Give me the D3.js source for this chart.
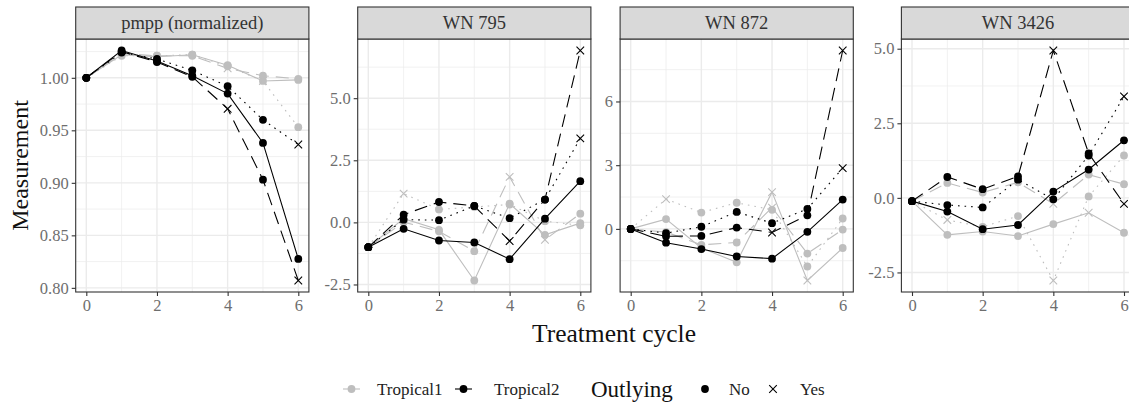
<!DOCTYPE html>
<html><head><meta charset="utf-8">
<script src="https://cdn.jsdelivr.net/npm/d3@7"></script>
<style>
body{margin:0;background:#fff}
svg{display:block}
text{font-family:"Liberation Serif","Times New Roman",serif}
</style>
</head><body>
<svg id="c" width="1129" height="405"></svg>
<script>
// ---------------- data ----------------
const cycles = [0, 1, 2, 3, 4, 5, 6];
const panelNames = ["pmpp (normalized)", "WN 795", "WN 872", "WN 3426"];
const seriesNames = ["Tropical1", "Tropical2"];
const lineTypes = ["solid", "dashed", "dotted"];
const xTicks = [0, 2, 4, 6];
const yTicks_pmpp = [0.80, 0.85, 0.90, 0.95, 1.00];
const yTicks_795 = [-2.5, 0.0, 2.5, 5.0];
const yTicks_872 = [0, 3, 6];
const yTicks_3426 = [-2.5, 0.0, 2.5, 5.0];
const yLabels_pmpp = ["0.80", "0.85", "0.90", "0.95", "1.00"];
const yLabels_795 = ["-2.5", "0.0", "2.5", "5.0"];
const yLabels_872 = ["0", "3", "6"];
const yLabels_3426 = ["-2.5", "0.0", "2.5", "5.0"];

// each: [solid, dashed, dotted]
const pmpp_Tropical1 = [
  [1.000, 1.022, 1.020, 1.022, 1.012, 0.997, 0.998],
  [1.000, 1.023, 1.021, 1.021, 1.009, 1.002, 0.999],
  [1.000, 1.021, 1.021, 1.022, 1.011, 0.997, 0.953]
];
const pmpp_Tropical2 = [
  [1.000, 1.026, 1.016, 1.002, 0.985, 0.938, 0.8275],
  [1.000, 1.025, 1.015, 1.001, 0.9705, 0.903, 0.807],
  [1.000, 1.024, 1.018, 1.007, 0.992, 0.960, 0.9365]
];
const pmpp_Tropical1_yes = [[], [4], [5]];
const pmpp_Tropical2_yes = [[], [4, 6], [6]];

const wn795_Tropical1 = [
  [-1.0, 0.15, -0.30, -2.34, 0.75, -0.50, -0.03],
  [-1.0, 0.01, -0.36, -1.16, 1.83, -0.70, 0.35],
  [-1.0, 1.16, 0.52, 0.62, 0.72, 0.05, -0.12]
];
const wn795_Tropical2 = [
  [-1.0, -0.26, -0.73, -0.81, -1.48, 0.15, 1.66],
  [-1.0, 0.31, 0.82, 0.66, -0.75, 0.92, 6.92],
  [-1.0, 0.11, 0.09, 0.66, 0.17, 0.92, 3.38]
];
const wn795_Tropical1_yes = [[], [4, 5], [1]];
const wn795_Tropical2_yes = [[], [4, 6], [6]];

const wn872_Tropical1 = [
  [0, 0.46, -0.90, -1.57, 1.73, -2.43, -0.90],
  [0, -0.15, -0.75, -0.64, 1.00, -1.16, -0.03],
  [0, 1.40, 0.77, 1.23, 0.90, -1.77, 0.49]
];
const wn872_Tropical2 = [
  [0, -0.65, -0.95, -1.30, -1.40, -0.14, 1.38],
  [0, -0.35, -0.33, 0.06, -0.17, 0.64, 8.40],
  [0, -0.20, 0.10, 0.80, 0.27, 0.94, 2.86]
];
const wn872_Tropical1_yes = [[4, 5], [4], [1]];
const wn872_Tropical2_yes = [[], [4, 6], [6]];

const wn3426_Tropical1 = [
  [-0.11, -1.24, -1.13, -1.28, -0.88, -0.50, -1.17],
  [-0.11, 0.50, 0.18, 0.52, -0.20, 0.78, 0.46],
  [-0.11, -0.74, -0.97, -0.61, -2.77, 0.05, 1.42]
];
const wn3426_Tropical2 = [
  [-0.11, -0.46, -1.05, -0.91, 0.21, 0.95, 1.93],
  [-0.11, 0.70, 0.29, 0.72, 4.94, 1.49, -0.20],
  [-0.11, -0.24, -0.32, 0.61, -0.05, 1.42, 3.40]
];
const wn3426_Tropical1_yes = [[5], [4], [1, 4]];
const wn3426_Tropical2_yes = [[], [4, 6], [6]];

const legendOutlying = ["No", "Yes"];

// ---------------- build ----------------
const panels = [
  {name: panelNames[0], t1: pmpp_Tropical1, t2: pmpp_Tropical2, y1: pmpp_Tropical1_yes, y2: pmpp_Tropical2_yes, ticks: yTicks_pmpp, labels: yLabels_pmpp},
  {name: panelNames[1], t1: wn795_Tropical1, t2: wn795_Tropical2, y1: wn795_Tropical1_yes, y2: wn795_Tropical2_yes, ticks: yTicks_795, labels: yLabels_795},
  {name: panelNames[2], t1: wn872_Tropical1, t2: wn872_Tropical2, y1: wn872_Tropical1_yes, y2: wn872_Tropical2_yes, ticks: yTicks_872, labels: yLabels_872},
  {name: panelNames[3], t1: wn3426_Tropical1, t2: wn3426_Tropical2, y1: wn3426_Tropical1_yes, y2: wn3426_Tropical2_yes, ticks: yTicks_3426, labels: yLabels_3426}
];

const svg = d3.select("#c");
const panelLeft = [75.7, 357.7, 620.1, 901.4];
const panelW = 233.2, panelTop = 39, panelBottom = 292, stripTop = 7;
const greyCol = "#BEBEBE";
const colorOf = {Tropical1: greyCol, Tropical2: "#000000"};
const dashOf = {solid: null, dashed: "13,7", dotted: "1.6,5"};
const gridCol = "#EBEBEB";
const axisTextCol = "#6e6e6e";
const R = 3.9, XS = 3.8;

function drawCross(g, cx, cy, col) {
  g.append("path")
    .attr("d", `M${cx - XS},${cy - XS}L${cx + XS},${cy + XS}M${cx - XS},${cy + XS}L${cx + XS},${cy - XS}`)
    .attr("stroke", col).attr("stroke-width", 1.1).attr("fill", "none");
}

const xPad = (cycles[cycles.length - 1] - cycles[0]) * 0.05;

panels.forEach((p, i) => {
  const L = panelLeft[i];
  const x = d3.scaleLinear().domain([cycles[0] - xPad, cycles[cycles.length - 1] + xPad]).range([L, L + panelW]);
  const all = p.t1.flat().concat(p.t2.flat());
  const [mn, mx] = d3.extent(all);
  const pad = (mx - mn) * 0.05;
  const y = d3.scaleLinear().domain([mn - pad, mx + pad]).range([panelBottom, panelTop]);
  const g = svg.append("g");

  const clipId = "clip" + i;
  svg.append("clipPath").attr("id", clipId).append("rect")
    .attr("x", L).attr("y", panelTop).attr("width", panelW).attr("height", panelBottom - panelTop);

  // minor grid
  const xMinor = [1, 3, 5];
  const step = p.ticks[1] - p.ticks[0];
  const yMinor = [];
  for (let v = p.ticks[0] - step / 2; v <= y.domain()[1]; v += step) {
    if (v >= y.domain()[0]) yMinor.push(v);
  }
  g.selectAll(".xmin").data(xMinor).join("line")
    .attr("x1", d => x(d)).attr("x2", d => x(d)).attr("y1", panelTop).attr("y2", panelBottom)
    .attr("stroke", gridCol).attr("stroke-width", 0.7);
  g.selectAll(".ymin").data(yMinor).join("line")
    .attr("y1", d => y(d)).attr("y2", d => y(d)).attr("x1", L).attr("x2", L + panelW)
    .attr("stroke", gridCol).attr("stroke-width", 0.7);
  // major grid
  g.selectAll(".xmaj").data(xTicks).join("line")
    .attr("x1", d => x(d)).attr("x2", d => x(d)).attr("y1", panelTop).attr("y2", panelBottom)
    .attr("stroke", gridCol).attr("stroke-width", 1.4);
  g.selectAll(".ymaj").data(p.ticks).join("line")
    .attr("y1", d => y(d)).attr("y2", d => y(d)).attr("x1", L).attr("x2", L + panelW)
    .attr("stroke", gridCol).attr("stroke-width", 1.4);

  // data
  const dg = g.append("g").attr("clip-path", `url(#${clipId})`);
  const line = d3.line().x((d, k) => x(cycles[k])).y(d => y(d));
  [["Tropical1", p.t1, p.y1], ["Tropical2", p.t2, p.y2]].forEach(([sn, arr, yes]) => {
    const col = colorOf[sn];
    arr.forEach((vals, li) => {
      dg.append("path").datum(vals).attr("d", line)
        .attr("fill", "none").attr("stroke", col).attr("stroke-width", 1.1)
        .attr("stroke-dasharray", dashOf[lineTypes[li]]);
    });
    arr.forEach((vals, li) => {
      vals.forEach((v, k) => {
        if (yes[li].includes(cycles[k])) drawCross(dg, x(cycles[k]), y(v), col);
        else dg.append("circle").attr("cx", x(cycles[k])).attr("cy", y(v)).attr("r", R).attr("fill", col);
      });
    });
  });

  // panel border
  g.append("rect").attr("x", L).attr("y", panelTop).attr("width", panelW).attr("height", panelBottom - panelTop)
    .attr("fill", "none").attr("stroke", "#333333").attr("stroke-width", 1.1);
  // strip
  g.append("rect").attr("x", L).attr("y", stripTop).attr("width", panelW).attr("height", panelTop - stripTop)
    .attr("fill", "#D9D9D9").attr("stroke", "#333333").attr("stroke-width", 1.1);
  g.append("text").attr("x", L + panelW / 2).attr("y", (stripTop + panelTop) / 2).attr("dy", "0.35em")
    .attr("text-anchor", "middle").attr("font-size", 18.5).attr("fill", "#333").text(p.name);

  // axes
  const ax = d3.axisBottom(x).tickValues(xTicks).tickSize(4).tickPadding(3).tickFormat(d3.format("d"));
  const axg = g.append("g").attr("transform", `translate(0,${panelBottom})`).call(ax);
  const ay = d3.axisLeft(y).tickValues(p.ticks).tickSize(4).tickPadding(3).tickFormat((d, k) => p.labels[k]);
  const ayg = g.append("g").attr("transform", `translate(${L},0)`).call(ay);
  [axg, ayg].forEach(a => {
    a.select(".domain").remove();
    a.selectAll(".tick line").attr("stroke", "#333333").attr("stroke-width", 1.1);
    a.selectAll(".tick text").attr("font-size", 16.5).attr("fill", axisTextCol)
      .attr("font-family", '"Liberation Serif", serif');
  });
});

// axis titles
svg.append("text").attr("transform", "translate(20,165.5) rotate(-90)").attr("dy", "0.35em")
  .attr("text-anchor", "middle").attr("font-size", 24).attr("fill", "#111").text("Measurement");
svg.append("text").attr("x", 614).attr("y", 333).attr("dy", "0.35em")
  .attr("text-anchor", "middle").attr("font-size", 25.5).attr("fill", "#111").text("Treatment cycle");

// legend
const LY = 389;
const lg = svg.append("g");
const keyStarts = [343, 455];
const textStarts = [377, 494];
seriesNames.forEach((sn, k) => {
  const col = colorOf[sn];
  const kx = keyStarts[k];
  lg.append("line").attr("x1", kx).attr("x2", kx + 17).attr("y1", LY).attr("y2", LY)
    .attr("stroke", col).attr("stroke-width", 1.1);
  lg.append("circle").attr("cx", kx + 8.5).attr("cy", LY).attr("r", R).attr("fill", col);
  lg.append("text").attr("x", textStarts[k]).attr("y", LY).attr("dy", "0.35em")
    .attr("font-size", 17).attr("fill", "#222").text(sn);
});
lg.append("text").attr("x", 591).attr("y", LY).attr("dy", "0.35em")
  .attr("font-size", 23).attr("fill", "#111").text("Outlying");
const symX = [705, 773];
const labX = [729, 800];
legendOutlying.forEach((lab, k) => {
  if (k === 0) lg.append("circle").attr("cx", symX[k]).attr("cy", LY).attr("r", R).attr("fill", "#000");
  else drawCross(lg, symX[k], LY, "#000");
  lg.append("text").attr("x", labX[k]).attr("y", LY).attr("dy", "0.35em")
    .attr("font-size", 17).attr("fill", "#222").text(lab);
});
</script>
</body></html>
